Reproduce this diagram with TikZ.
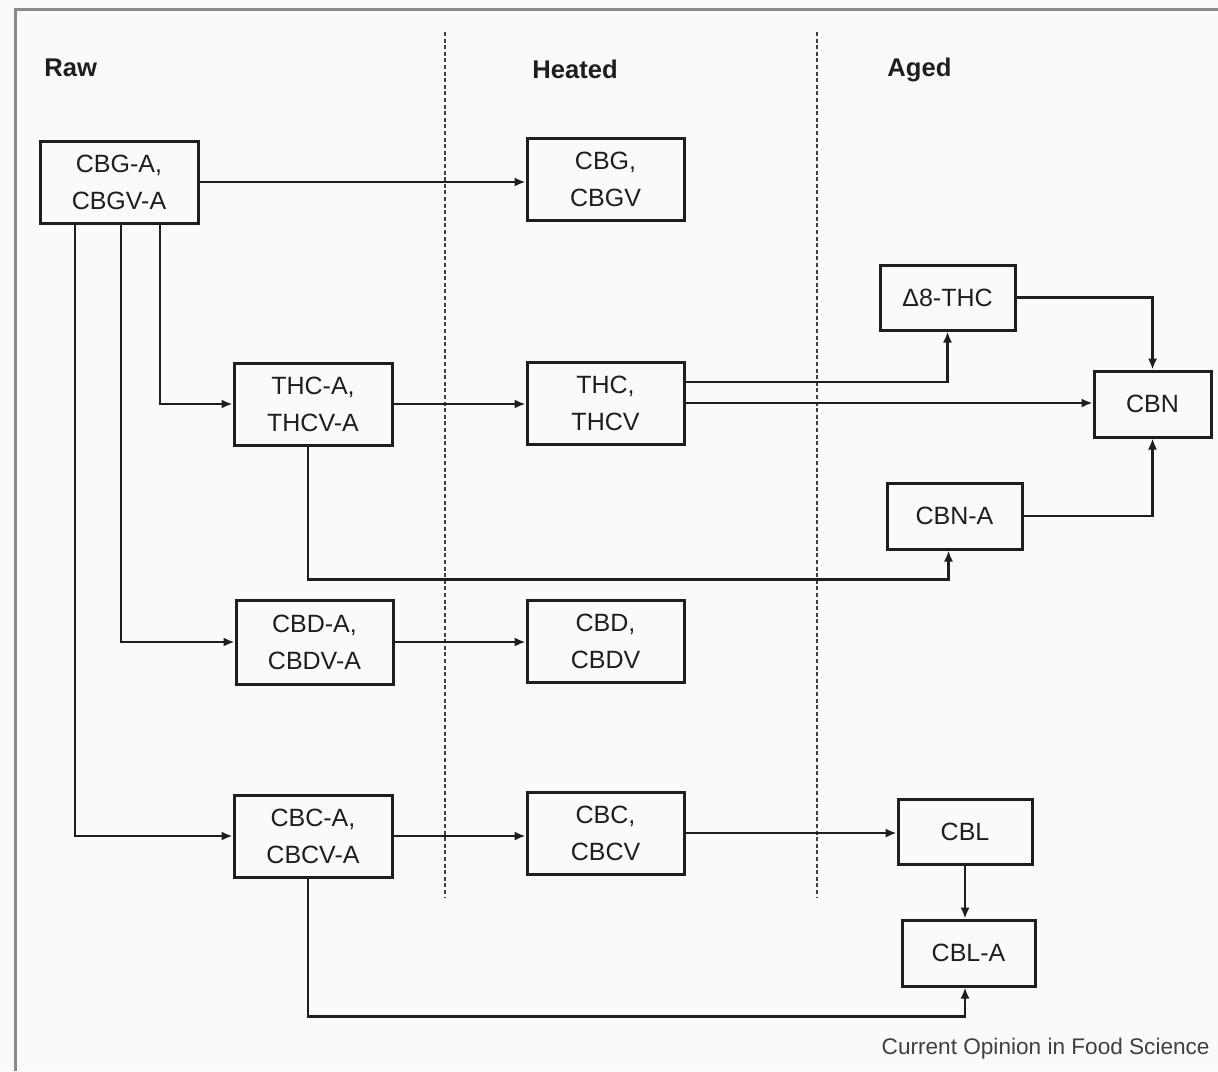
\documentclass[tikz,border=0pt]{standalone}
\usepackage{fontspec}
\setmainfont{Liberation Sans}
\usetikzlibrary{arrows.meta}
\definecolor{paper}{HTML}{FAFAFA}
\definecolor{frame}{HTML}{8A8A8A}
\definecolor{ink}{HTML}{1E1E1E}
\begin{document}
\begin{tikzpicture}[x=0.5pt,y=-0.5pt,
  cmpd/.style 2 args={draw=ink,line width=1.5pt,minimum width=#1,minimum height=#2,
    inner sep=0pt,align=center,text=ink,font=\fontsize{12.5pt}{18.5pt}\selectfont},
  arr/.style={draw=ink,line width=1.4pt,-{Latex[length=5.5pt,width=4.6pt]}},
  phase/.style={anchor=west,text=ink,font=\fontsize{12.8pt}{15pt}\selectfont\bfseries,inner sep=0pt},
  divider/.style={draw=ink!85,line width=1pt,dash pattern=on 2pt off 1.3pt}]
% page and frame
\fill[paper] (0,0) rectangle (1218,1071);
\useasboundingbox (0,0) rectangle (1218,1071);
\draw[frame,line width=1.5pt] (15,1071) -- (15,9) -- (1218,9);
% stage dividers
\draw[divider] (445,32) -- (445,898);
\draw[divider] (817,32) -- (817,898);
% stage headings
\node[phase] (raw) at (44,68) {Raw};
\node[phase] (heated) at (532,69) {Heated};
\node[phase] (aged) at (887,70) {Aged};
% compounds
\node[cmpd={79pt}{41pt}] (cbga) at (119,182) {CBG-A,\\CBGV-A};
\node[cmpd={78.5pt}{41pt}] (cbg) at (605.5,179) {CBG,\\CBGV};
\node[cmpd={67.5pt}{32.5pt}] (d8thc) at (947.5,297.5) {Δ8-THC};
\node[cmpd={79pt}{41pt}] (thca) at (313,404) {THC-A,\\THCV-A};
\node[cmpd={78.5pt}{41pt}] (thc) at (605.5,403) {THC,\\THCV};
\node[cmpd={58.5pt}{33pt}] (cbn) at (1152.5,404) {CBN};
\node[cmpd={67.5pt}{33pt}] (cbna) at (954.5,516) {CBN-A};
\node[cmpd={78.5pt}{42pt}] (cbda) at (314.5,642) {CBD-A,\\CBDV-A};
\node[cmpd={78.5pt}{41pt}] (cbd) at (605.5,641) {CBD,\\CBDV};
\node[cmpd={79pt}{41pt}] (cbca) at (313,836) {CBC-A,\\CBCV-A};
\node[cmpd={78.5pt}{41pt}] (cbc) at (605.5,833) {CBC,\\CBCV};
\node[cmpd={67pt}{32.5pt}] (cbl) at (965,831.5) {CBL};
\node[cmpd={66.5pt}{33pt}] (cbla) at (968.5,953) {CBL-A};
% source note
\node[anchor=east,inner sep=0pt,text=ink!85,font=\fontsize{11.3pt}{13pt}\selectfont] (note) at (1210,1049) {Current Opinion in Food Science};
% decarboxylation and ageing pathways
\draw[arr] (cbga.east) -- (cbga.east -| cbg.west);
\draw[arr] ([xshift=20.5pt]cbga.south) |- (thca.west);
\draw[arr] ([xshift=1pt]cbga.south) |- (cbda.west);
\draw[arr] ([xshift=-22pt]cbga.south) |- (cbca.west);
\draw[arr] (thca.east) -- (thca.east -| thc.west);
\draw[arr] ([yshift=10.5pt]thc.east) -| (d8thc.south);
\draw[arr] (thc.east) -- (thc.east -| cbn.west);
\draw[arr] (d8thc.east) -| (cbn.north);
\draw[arr] (cbna.east) -| (cbn.south);
\draw[arr] ([xshift=-2.5pt]thca.south) |- ([yshift=-14.5pt,xshift=-3pt]cbna.south) -- ([xshift=-3pt]cbna.south);
\draw[arr] (cbda.east) -- (cbda.east -| cbd.west);
\draw[arr] (cbca.east) -- (cbca.east -| cbc.west);
\draw[arr] (cbc.east) -- (cbc.east -| cbl.west);
\draw[arr] (cbl.south) -- (cbl.south |- cbla.north);
\draw[arr] ([xshift=-2.5pt]cbca.south) |- ([yshift=-14.5pt,xshift=-1.75pt]cbla.south) -- ([xshift=-1.75pt]cbla.south);
\end{tikzpicture}
\end{document}
